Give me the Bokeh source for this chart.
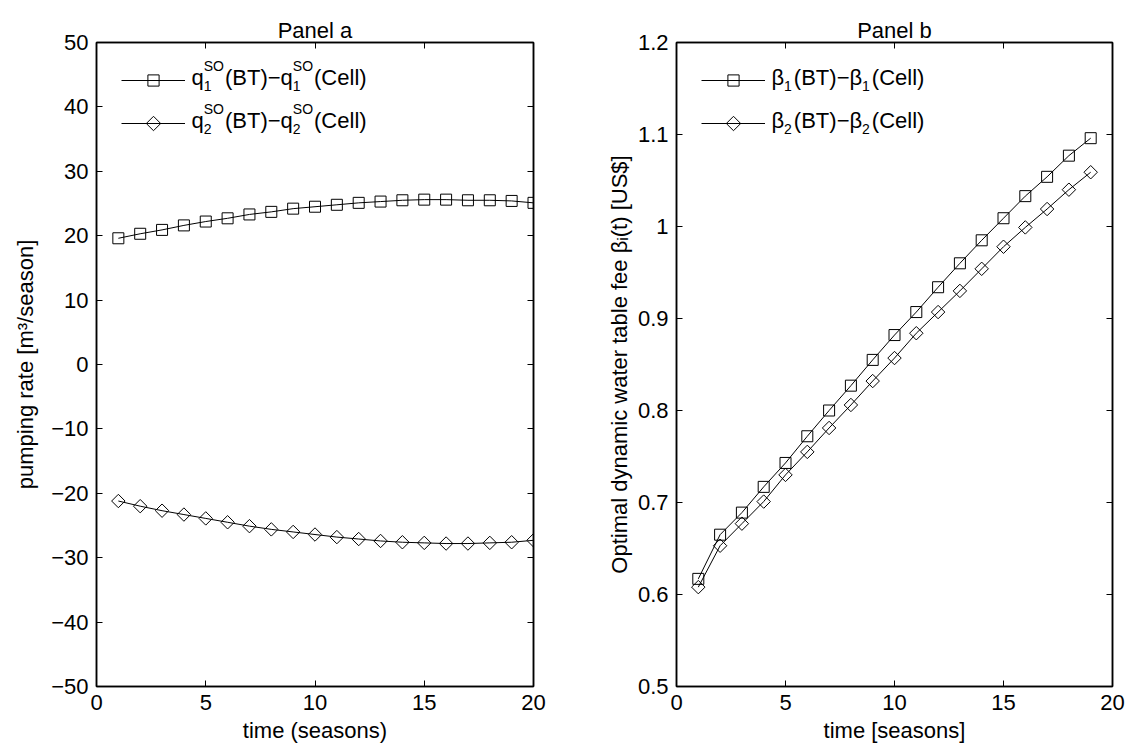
import numpy as np
from bokeh.plotting import figure
from bokeh.models import (Range1d, FixedTicker, LinearAxis, CustomJSTickFormatter,
                          Legend, LegendItem, Label, PolyAnnotation)
from bokeh.layouts import row
from bokeh.embed import file_html
from bokeh.resources import INLINE

# ---------------- data ----------------
t_a = list(range(1, 21))
q1_diff = [19.6, 20.3, 20.9, 21.6, 22.2, 22.7, 23.3, 23.7, 24.2, 24.5,
           24.8, 25.1, 25.3, 25.5, 25.6, 25.6, 25.5, 25.5, 25.4, 25.1]
q2_diff = [-21.2, -22.0, -22.7, -23.3, -23.9, -24.5, -25.1, -25.6, -26.0, -26.4,
           -26.8, -27.1, -27.4, -27.6, -27.7, -27.8, -27.8, -27.7, -27.6, -27.3]

t_b = list(range(1, 20))
beta1_diff = [0.617, 0.665, 0.689, 0.717, 0.743, 0.772, 0.800, 0.827, 0.855, 0.882,
              0.907, 0.934, 0.960, 0.985, 1.009, 1.033, 1.054, 1.077, 1.096]
beta2_diff = [0.608, 0.653, 0.677, 0.701, 0.730, 0.755, 0.781, 0.806, 0.832, 0.857,
              0.884, 0.907, 0.930, 0.954, 0.978, 0.999, 1.019, 1.040, 1.059]

x_ticks = [0, 5, 10, 15, 20]
ya_ticks = [-50, -40, -30, -20, -10, 0, 10, 20, 30, 40, 50]
yb_ticks = [0.5, 0.6, 0.7, 0.8, 0.9, 1.0, 1.1, 1.2]

# ---------------- style ----------------
FONT = "Liberation Sans"
FS = 22
SFS = 14
FRAME_H = 644
TOP = 42
BOTTOM = 64

CW = {'q': .556, '(': .333, ')': .333, 'B': .667, 'T': .611, '\u2212': .584,
      'C': .722, 'e': .556, 'l': .222, 'S': .667, 'O': .778, '1': .556,
      '2': .556, '\u03b2': .572}


def tw(s, fs):
    return sum(CW.get(c, 0.55) for c in s) * fs


num_fmt = CustomJSTickFormatter(code="""
    var v = Math.round(tick*1000)/1000;
    var s = Math.abs(v).toString();
    return (v < 0 ? '\u2212' : '') + s;
""")
blank_fmt = CustomJSTickFormatter(code="return '';")


def style(p, yticks, xlabel, ylabel, ylabel_standoff):
    p.xgrid.visible = False
    p.ygrid.visible = False
    p.outline_line_color = "black"
    p.outline_line_width = 1.5
    p.background_fill_color = "white"
    p.border_fill_color = "white"
    p.title.align = "center"
    p.title.text_font = FONT
    p.title.text_font_size = f"{FS}px"
    p.title.text_font_style = "normal"
    p.title.text_color = "black"
    p.title.standoff = 0
    xa = p.below[0]
    ya = p.left[0]
    for ax in (xa, ya):
        ax.major_tick_in = 6
        ax.major_tick_out = 0
        ax.minor_tick_line_color = None
        ax.axis_line_width = 1.5
        ax.axis_line_color = "black"
        ax.major_tick_line_color = "black"
        ax.major_tick_line_width = 1
        ax.major_label_text_font = FONT
        ax.major_label_text_font_size = f"{FS}px"
        ax.major_label_text_color = "black"
        ax.axis_label_text_font = FONT
        ax.axis_label_text_font_size = f"{FS}px"
        ax.axis_label_text_font_style = "normal"
        ax.axis_label_text_color = "black"
        ax.formatter = num_fmt
    xa.ticker = FixedTicker(ticks=x_ticks)
    ya.ticker = FixedTicker(ticks=yticks)
    xa.major_label_standoff = 8
    xa.axis_label_standoff = 5
    ya.major_label_standoff = 8
    ya.axis_label_standoff = ylabel_standoff
    xa.axis_label = xlabel
    ya.axis_label = ylabel
    # mirrored axes (ticks only)
    for side, ticks in (("right", yticks), ("above", x_ticks)):
        ax = LinearAxis(ticker=FixedTicker(ticks=ticks), formatter=blank_fmt,
                        major_tick_in=6, major_tick_out=0,
                        minor_tick_line_color=None, axis_line_width=1.5,
                        axis_line_color="black", major_tick_line_color="black",
                        major_label_text_font_size="1px", major_label_standoff=0)
        p.add_layout(ax, side)


def lab(p, x, y, txt, fs):
    p.add_layout(Label(x=x, y=y, x_units='screen', y_units='screen', text=txt,
                       text_font=FONT, text_font_size=f"{fs}px",
                       text_baseline="alphabetic", text_color="black"))


def rich(p, x0, yb, parts):
    x = x0
    for part in parts:
        if part[0] == 'n':
            lab(p, x, yb, part[1], FS)
            x += tw(part[1], FS)
        elif part[0] == 'gap':
            x += part[1]
        else:
            sup, sub = part[1], part[2]
            w = 0
            if sup:
                lab(p, x, yb + 11.7, sup, SFS)
                w = max(w, tw(sup, SFS))
            if sub:
                lab(p, x, yb - 8.3, sub, SFS)
                w = max(w, tw(sub, SFS))
            x += w + 1


ROW1 = 38     # legend row 1 centre, px below the frame top
GAP = 43      # distance between legend rows
GLX0, GLW = 25, 64


def legend(p, r_square, r_line2):
    gh = 28
    top = ROW1 - gh / 2
    bottom = FRAME_H - top - (gh + GAP)
    leg = Legend(items=[LegendItem(label=" ", renderers=r_square),
                        LegendItem(label=" ", renderers=r_line2)],
                 location=(GLX0, bottom), orientation="vertical",
                 glyph_width=GLW, glyph_height=gh, label_width=0, label_height=gh,
                 label_standoff=0, spacing=GAP - gh, padding=0, margin=0,
                 border_line_color=None, background_fill_alpha=0,
                 label_text_font_size="1px")
    p.add_layout(leg)
    yc1 = FRAME_H - ROW1
    yc2 = yc1 - GAP
    cx = GLX0 + GLW / 2
    d = 7.2
    p.add_layout(PolyAnnotation(xs=[cx, cx + d, cx, cx - d], ys=[yc2 + d, yc2, yc2 - d, yc2],
                                xs_units="screen", ys_units="screen",
                                fill_color=None, fill_alpha=0,
                                line_color="black", line_alpha=1.0, line_width=1))
    return yc1, yc2


# ---------------- panel a ----------------
pa = figure(frame_width=437, frame_height=FRAME_H, x_range=Range1d(0, 20),
            y_range=Range1d(-50, 50), output_backend="svg", toolbar_location=None,
            title="Panel a", min_border_left=96, min_border_right=70,
            min_border_top=TOP, min_border_bottom=BOTTOM)
style(pa, ya_ticks, "time (seasons)", "pumping rate [m\u00b3/season]", 10)

la1 = pa.line(t_a, q1_diff, line_color="black", line_width=1)
sa1 = pa.scatter(t_a, q1_diff, marker="square", size=11, fill_color=None,
                 line_color="black", line_width=1)
la2 = pa.line(t_a, q2_diff, line_color="black", line_width=1)
sa2 = pa.scatter(t_a, q2_diff, marker="square", angle=np.pi / 4, size=9.5,
                 fill_color=None, line_color="black", line_width=1)

yc1, yc2 = legend(pa, [la1, sa1], [la2])
for k, yc in (("1", yc1), ("2", yc2)):
    rich(pa, 95, yc + 3.3, [('n', 'q'), ('ss', 'SO', k), ('n', '(BT)\u2212q'),
                            ('ss', 'SO', k), ('n', '(Cell)')])

# ---------------- panel b ----------------
pb = figure(frame_width=436, frame_height=FRAME_H, x_range=Range1d(0, 20),
            y_range=Range1d(0.5, 1.2), output_backend="svg", toolbar_location=None,
            title="Panel b", min_border_left=68, min_border_right=18,
            min_border_top=TOP, min_border_bottom=BOTTOM)
style(pb, yb_ticks, "time [seasons]",
      "Optimal dynamic water table fee \u03b2\u1d62(t) [US$]", 3)

lb1 = pb.line(t_b, beta1_diff, line_color="black", line_width=1)
sb1 = pb.scatter(t_b, beta1_diff, marker="square", size=11, fill_color=None,
                 line_color="black", line_width=1)
lb2 = pb.line(t_b, beta2_diff, line_color="black", line_width=1)
sb2 = pb.scatter(t_b, beta2_diff, marker="square", angle=np.pi / 4, size=9.5,
                 fill_color=None, line_color="black", line_width=1)

yc1, yc2 = legend(pb, [lb1, sb1], [lb2])
for k, yc in (("1", yc1), ("2", yc2)):
    rich(pb, 95, yc + 3.3, [('n', '\u03b2'), ('ss', None, k), ('gap', 1),
                            ('n', '(BT)\u2212\u03b2'), ('ss', None, k), ('gap', 1),
                            ('n', '(Cell)')])

layout = row(pa, pb, spacing=0)
open("out.html", "w").write(file_html(layout, INLINE))
